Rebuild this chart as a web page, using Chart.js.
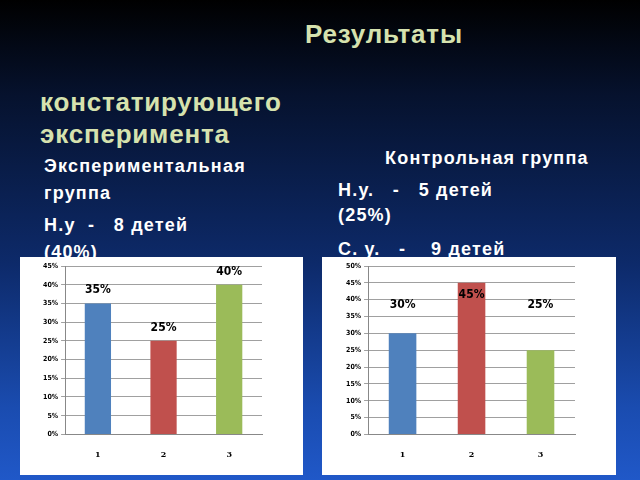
<!DOCTYPE html>
<html><head><meta charset="utf-8">
<script src="https://cdn.jsdelivr.net/npm/chart.js@4/dist/chart.umd.min.js"></script>
<style>
body{margin:0;width:640px;height:480px;overflow:hidden;background:linear-gradient(#000 0%,#06122e 20%,#0d2a6a 55%,#1a4cb0 85%,#2058c8 100%);font-family:"Liberation Sans",Arial,sans-serif;position:relative}
.t{position:absolute;font-weight:bold;white-space:nowrap}
.g{color:#d6e2ae;font-size:26px;letter-spacing:0.8px}
.w{color:#fff;font-size:18px;letter-spacing:1.2px}
.box{position:absolute;background:#fff;top:257px;height:218px}
</style></head><body>
<div class="t g" style="left:305px;top:19px">Результаты</div>
<div class="t g" style="left:40px;top:87px">констатирующего</div>
<div class="t g" style="left:40px;top:119px">эксперимента</div>
<div class="t w" style="left:44px;top:156px">Экспериментальная</div>
<div class="t w" style="left:44px;top:183px">группа</div>
<div class="t w" style="left:44px;top:215px">Н.у &nbsp;- &nbsp;&nbsp;8 детей</div>
<div class="t w" style="left:44px;top:242px">(40%)</div>
<div class="t w" style="left:385px;top:148px">Контрольная группа</div>
<div class="t w" style="left:338px;top:180px">Н.у. &nbsp;&nbsp;- &nbsp;&nbsp;5 детей</div>
<div class="t w" style="left:338px;top:205px">(25%)</div>
<div class="t w" style="left:338px;top:239px">С. у. &nbsp;&nbsp;- &nbsp;&nbsp;&nbsp;9 детей</div>
<div class="box" style="left:20px;width:283px"><canvas id="c1" width="283" height="218"></canvas></div>
<div class="box" style="left:322px;width:294px"><canvas id="c2" width="294" height="218"></canvas></div>
<script>
const categories=["1","2","3"];
const expValues=[35,25,40];
const ctrlValues=[30,45,25];
const expLabelAt=[38.5,28.5,43.5];
const ctrlLabelAt=[38.5,41.5,38.5];
const colors=["#4f81bd","#c0504d","#9bbb59"];
const labelPlugin={id:"lbl",afterDatasetsDraw(ch,a,opts){
 const c=ch.ctx,ds=ch.data.datasets[0],m=ch.getDatasetMeta(0),y=ch.scales.y;
 c.save();c.font='bold 12px "DejaVu Sans Condensed","Liberation Sans"';c.fillStyle="#000";c.textAlign="center";c.textBaseline="middle";
 m.data.forEach((b,i)=>c.fillText(ds.data[i]+"%",b.x,y.getPixelForValue(opts.at[i])));c.restore();}};
function mk(id,vals,max,at,pad){
 new Chart(document.getElementById(id),{type:"bar",
  data:{labels:categories,datasets:[{data:vals,backgroundColor:colors,barPercentage:0.8,categoryPercentage:0.5}]},
  options:{responsive:false,animation:false,layout:{padding:pad},
   plugins:{legend:{display:false},tooltip:{enabled:false},lbl:{at:at}},
   scales:{x:{grid:{display:false,drawTicks:true},border:{color:"#888"},ticks:{color:"#000",font:{size:8,weight:"bold",family:"DejaVu Serif"},padding:8}},
    y:{min:0,max:max,grid:{color:"#a0a0a0",tickLength:4},border:{color:"#888"},
     ticks:{stepSize:5,color:"#000",font:{size:7,weight:"bold",family:"DejaVu Sans Condensed"},callback:v=>v+"%"}}}},
  plugins:[labelPlugin]});}
mk("c1",expValues,45,expLabelAt,{left:20,right:41,top:9,bottom:7});
mk("c2",ctrlValues,50,ctrlLabelAt,{left:21,right:41,top:9,bottom:7});
</script></body></html>
